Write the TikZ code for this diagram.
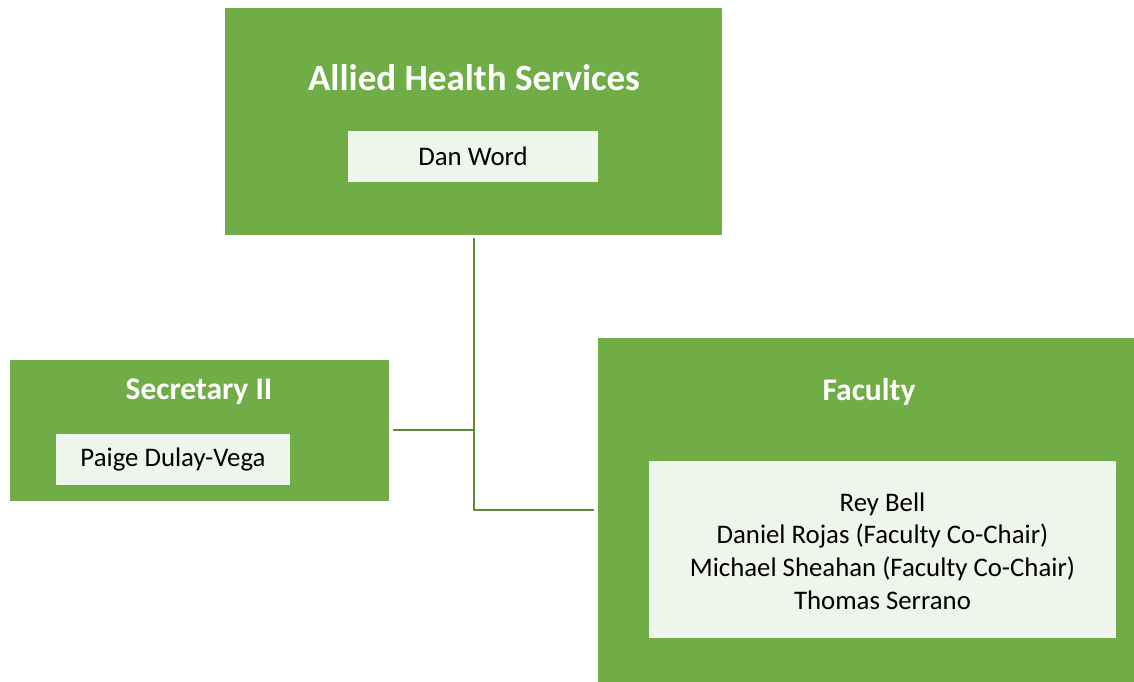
\documentclass[tikz,border=0pt]{standalone}
\usepackage{fontspec}
\setmainfont{Carlito}
\begin{document}
\begin{tikzpicture}[x=1pt,y=-1pt,
  outerbox/.style={rectangle, fill=boxgreen, draw=none, inner sep=0pt},
  innerbox/.style={rectangle, fill=boxlight, draw=none, inner sep=0pt},
  titletext/.style={text=white, font=\bfseries\fontsize{37}{44}\selectfont, inner sep=0pt},
  subtitle/.style={text=white, font=\bfseries\fontsize{31.5}{38}\selectfont, inner sep=0pt},
  nametext/.style={text=black, font=\fontsize{26.8}{32.7}\selectfont, inner sep=0pt, align=center},
  conn/.style={draw=linegreen, line width=2.8pt}
]
\definecolor{boxgreen}{HTML}{70AD47}
\definecolor{boxlight}{HTML}{EFF5EA}
\definecolor{linegreen}{HTML}{5B8C3A}
\useasboundingbox (0,0) rectangle (1134,682);
\fill[white] (0,0) rectangle (1134,682);

% boxes
\node[outerbox, minimum width=497pt, minimum height=227pt] (top) at (473.5,121.5) {};
\node[outerbox, minimum width=379pt, minimum height=141pt] (sec) at (199.5,430) {};
\node[outerbox, minimum width=536pt, minimum height=345pt] (fac) at (866,510) {};

\node[innerbox, minimum width=250pt, minimum height=51pt] (dan) at (473,156.5) {};
\node[innerbox, minimum width=234pt, minimum height=51pt] (paige) at (173,459.5) {};
\node[innerbox, minimum width=467pt, minimum height=177pt] (facnames) at (882.5,549.5) {};

% titles
\node[titletext] (toptitle) at (474,78) {Allied Health Services};
\node[subtitle] (sectitle) at (199,392) {Secretary II};
\node[subtitle] (factitle) at (869,392) {Faculty};

% names
\node[nametext] (danname) at (dan.center) {Dan Word};
\node[nametext] (paigename) at (paige.center) {Paige Dulay-Vega};
\node[nametext] (facname) at (882.5,551) {Rey Bell\\Daniel Rojas (Faculty Co-Chair)\\Michael Sheahan (Faculty Co-Chair)\\Thomas Serrano};

% connectors
\coordinate (j1) at (474,430);
\coordinate (j2) at (474,510);
\coordinate (ttop) at (474,238);
\draw[conn] (ttop) -- (j2) -- ([xshift=-4pt]fac.west);
\draw[conn] ([xshift=4pt]sec.east) -- (j1);
\end{tikzpicture}
\end{document}
